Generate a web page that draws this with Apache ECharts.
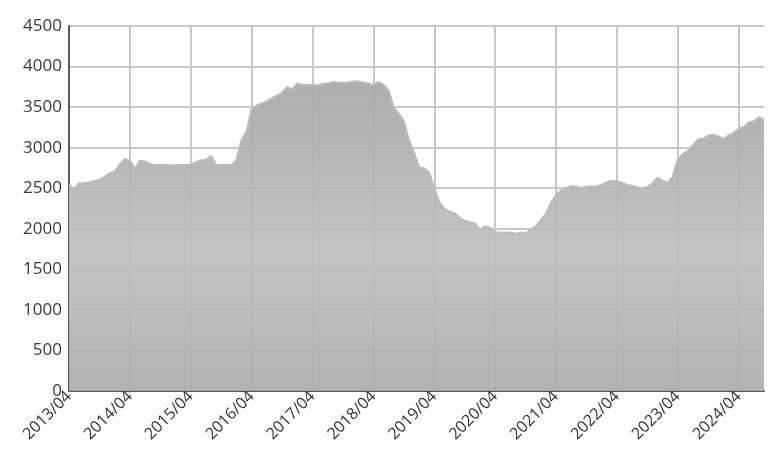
<!DOCTYPE html>
<html>
<head>
<meta charset="utf-8">
<script src="https://cdn.jsdelivr.net/npm/echarts@6/dist/echarts.min.js"></script>
<style>
  html, body { margin: 0; padding: 0; background: #fff; }
  #chart { width: 778px; height: 458px; }
</style>
</head>
<body>
<div id="chart"></div>
<script>
// monthly categories 2013/04 .. 2024/09
const startYear = 2013
const startMonth = 4
const values = [
  2540, 2490, 2560, 2565, 2575, 2590, 2600, 2640, 2685, 2705, 2790, 2860,
  2840, 2740, 2840, 2830, 2800, 2785, 2785, 2785, 2780, 2785, 2785, 2785,
  2790, 2820, 2845, 2850, 2900, 2790, 2785, 2785, 2785, 2850, 3090, 3200,
  3480, 3520, 3545, 3575, 3610, 3640, 3680, 3745, 3720, 3790, 3775, 3775,
  3770, 3770, 3785, 3790, 3810, 3805, 3800, 3805, 3815, 3815, 3805, 3790,
  3770, 3810, 3775, 3710, 3490, 3420, 3330, 3100, 2940, 2760, 2745, 2690,
  2500, 2330, 2250, 2210, 2190, 2135, 2100, 2080, 2065, 1990, 2035, 2010,
  1960, 1950, 1955, 1950, 1935, 1955, 1940, 1990, 2030, 2110, 2180, 2320,
  2420, 2470, 2500, 2525, 2520, 2500, 2520, 2520, 2525, 2540, 2575, 2590,
  2585, 2570, 2540, 2530, 2510, 2490, 2515, 2560, 2630, 2590, 2565, 2640,
  2860, 2920, 2960, 3030, 3100, 3110, 3150, 3160, 3140, 3110, 3150, 3180,
  3230, 3255, 3310, 3325, 3375, 3345
]

const categories = values.map((v, i) => {
  const m = startMonth - 1 + i
  const y = startYear + Math.floor(m / 12)
  const mm = (m % 12) + 1
  return `${y}/${String(mm).padStart(2, '0')}`
})

const yTicks = [0, 500, 1000, 1500, 2000, 2500, 3000, 3500, 4000, 4500]

const chart = echarts.init(document.getElementById('chart'))

const option = {
  animation: false,
  textStyle: { fontFamily: 'Open Sans' },
  grid: { left: 69, right: 14, top: 26, bottom: 67, containLabel: false },
  xAxis: {
    type: 'category',
    data: categories,
    boundaryGap: false,
    axisLine: { show: true, lineStyle: { color: '#5a5a5a', width: 2 } },
    axisTick: { show: false },
    axisLabel: {
      interval: 11,
      rotate: 45,
      color: '#333',
      fontSize: 16,
      margin: 3,
    },
    splitLine: {
      show: true,
      interval: 11,
      lineStyle: { color: '#c8c8c8', width: 2 },
    },
  },
  yAxis: {
    type: 'value',
    min: yTicks[0],
    max: yTicks[yTicks.length - 1],
    interval: 500,
    axisLine: { show: true, lineStyle: { color: '#5a5a5a', width: 2 } },
    axisTick: { show: false },
    axisLabel: {
      color: '#3a3a3a',
      fontSize: 17,
      margin: 7,
      formatter: (v) => String(v),
    },
    splitLine: { lineStyle: { color: '#c8c8c8', width: 2 } },
  },
  series: [
    {
      type: 'line',
      data: values,
      symbol: 'none',
      z: 1,
      lineStyle: { color: '#bcbcbc', width: 2 },
      areaStyle: {
        opacity: 0.9,
        color: new echarts.graphic.LinearGradient(0, 0, 0, 1, [
          { offset: 0, color: '#a6a6a6' },
          { offset: 0.55, color: '#bdbdbd' },
          { offset: 1, color: '#acacac' },
        ]),
      },
    },
  ],
}

chart.setOption(option)
</script>
</body>
</html>
